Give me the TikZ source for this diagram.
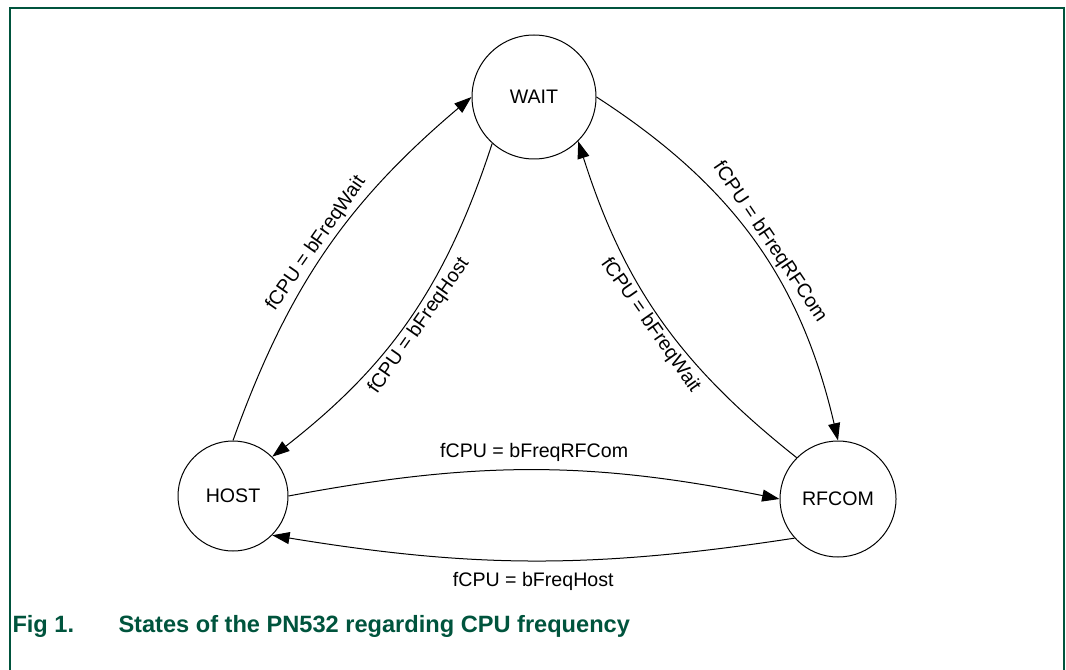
\documentclass[tikz,border=0pt]{standalone}
\usepackage{fontspec}
\setmainfont{Liberation Sans}
\usetikzlibrary{arrows.meta}

\definecolor{nxpgreen}{RGB}{0,84,61}
\tikzset{every picture/.style={line width=0.75pt}}
\tikzset{
  state/.style={draw, circle, minimum size=#1, inner sep=0pt, font=\fontsize{14.7}{17}\selectfont},
  trans/.style={-{Triangle[length=13pt,width=9pt]}},
  lbl/.style={inner sep=2pt, font=\fontsize{14.7}{17}\selectfont},
}

\begin{document}
\begin{tikzpicture}[x=0.75pt,y=0.75pt,yscale=-1,xscale=1]
\useasboundingbox (0,0) rectangle (1066,670);

%Shape: Frame
\draw [color=nxpgreen, line width=1.5pt] (10,670) -- (10,8) -- (1064,8) -- (1064,670) ;

%Shape: Circle
\node [state=93pt] (wait) at (534,97) {WAIT};
%Shape: Circle
\node [state=82.5pt] (host) at (233,496) {HOST};
%Shape: Circle
\node [state=87pt] (rfcom) at (838,499) {RFCOM};

%Curve Lines
\draw [trans] (host.90) to [bend right=15] node [lbl, pos=0.5, rotate=55, anchor=south] (lwait1) {fCPU = bFreqWait} (wait.180) ;
%Curve Lines
\draw [trans] (wait.228) to [bend right=17] node [lbl, pos=0.5, rotate=55, anchor=north] (lhost1) {fCPU = bFreqHost} (host.45) ;
%Curve Lines
\draw [trans] (wait.0) to [bend right=22] node [lbl, pos=0.52, rotate=-56, anchor=south] (lrfcom1) {fCPU = bFreqRFCom} (rfcom.90) ;
%Curve Lines
\draw [trans] (rfcom.135) to [bend right=17] node [lbl, pos=0.5, rotate=-55, anchor=north] (lwait2) {fCPU = bFreqWait} (wait.-45) ;
%Curve Lines
\draw [trans] (host.0) to [bend right=11] node [lbl, pos=0.5, above=4pt] (lrfcom2) {fCPU = bFreqRFCom} (rfcom.180) ;
%Curve Lines
\draw [trans] (rfcom.222) to [bend right=9] node [lbl, pos=0.5, below=6pt] (lhost2) {fCPU = bFreqHost} (host.315) ;

% Caption
\node [anchor=base west, inner sep=0pt, text=nxpgreen, font=\fontsize{17.7}{21}\selectfont\bfseries] (fig) at (12,632) {Fig 1.};
\node [anchor=base west, inner sep=0pt, text=nxpgreen, font=\fontsize{17.7}{21}\selectfont\bfseries] (caption) at (118,632) {States of the PN532 regarding CPU frequency};

\end{tikzpicture}
\end{document}
